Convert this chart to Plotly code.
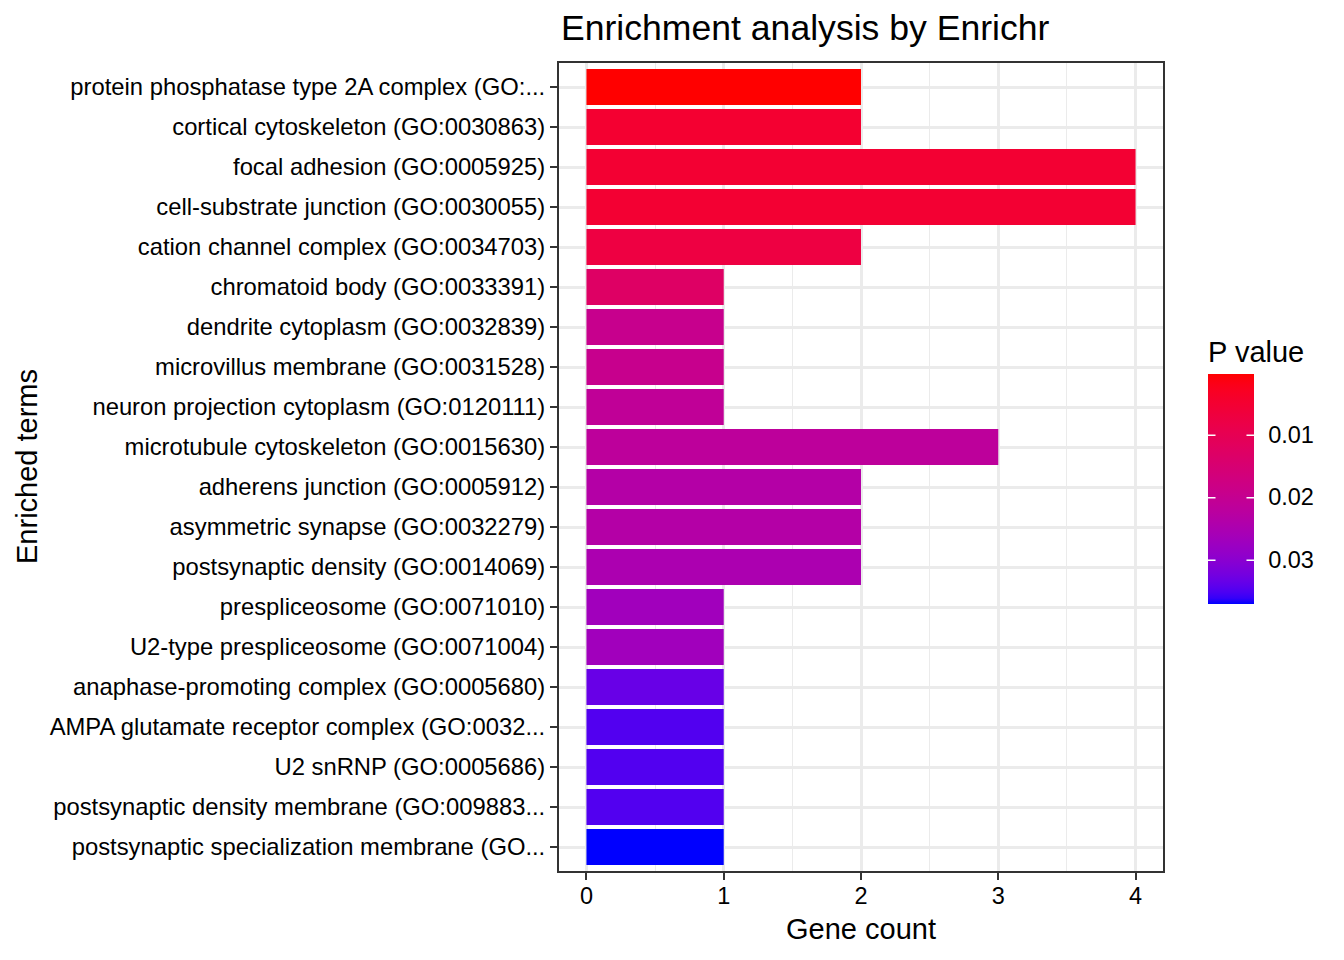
import plotly.graph_objects as go

# Enrichr terms, top to bottom as in the chart
terms = [
    'protein phosphatase type 2A complex (GO:...',
    'cortical cytoskeleton (GO:0030863)',
    'focal adhesion (GO:0005925)',
    'cell-substrate junction (GO:0030055)',
    'cation channel complex (GO:0034703)',
    'chromatoid body (GO:0033391)',
    'dendrite cytoplasm (GO:0032839)',
    'microvillus membrane (GO:0031528)',
    'neuron projection cytoplasm (GO:0120111)',
    'microtubule cytoskeleton (GO:0015630)',
    'adherens junction (GO:0005912)',
    'asymmetric synapse (GO:0032279)',
    'postsynaptic density (GO:0014069)',
    'prespliceosome (GO:0071010)',
    'U2-type prespliceosome (GO:0071004)',
    'anaphase-promoting complex (GO:0005680)',
    'AMPA glutamate receptor complex (GO:0032...',
    'U2 snRNP (GO:0005686)',
    'postsynaptic density membrane (GO:009883...',
    'postsynaptic specialization membrane (GO...',
]
gene_count = [2, 2, 4, 4, 2, 1, 1, 1, 1, 3, 2, 2, 2, 1, 1, 1, 1, 1, 1, 1]
p_value = [0.00035, 0.0050, 0.0053, 0.0053, 0.0074, 0.0129, 0.0195, 0.0195, 0.0210,
           0.0217, 0.0235, 0.0235, 0.0250, 0.0269, 0.0269, 0.0335, 0.0349, 0.0349,
           0.0349, 0.03715]
cbar_ticks = [0.01, 0.02, 0.03]


# ggplot-style gradient (interpolated in Lab space)
def to_lab(rgb):
    def lin(c):
        c = c / 255
        return c / 12.92 if c <= 0.04045 else ((c + 0.055) / 1.055) ** 2.4
    r, g, b = (lin(c) for c in rgb)
    x = (0.4124 * r + 0.3576 * g + 0.1805 * b) / 0.95047
    y = 0.2126 * r + 0.7152 * g + 0.0722 * b
    z = (0.0193 * r + 0.1192 * g + 0.9505 * b) / 1.08883
    f = lambda t: t ** (1 / 3) if t > 0.008856 else 7.787 * t + 16 / 116
    fx, fy, fz = f(x), f(y), f(z)
    return 116 * fy - 16, 500 * (fx - fy), 200 * (fy - fz)


def from_lab(L, a, bb):
    fy = (L + 16) / 116
    fx = fy + a / 500
    fz = fy - bb / 200
    inv = lambda t: t ** 3 if t ** 3 > 0.008856 else (t - 16 / 116) / 7.787
    x, y, z = 0.95047 * inv(fx), inv(fy), 1.08883 * inv(fz)
    r = 3.2406 * x - 1.5372 * y - 0.4986 * z
    g = -0.9689 * x + 1.8758 * y + 0.0415 * z
    b = 0.0557 * x - 0.2040 * y + 1.0570 * z
    def gam(c):
        c = min(max(c, 0), 1)
        return 12.92 * c if c <= 0.0031308 else 1.055 * c ** (1 / 2.4) - 0.055
    return 'rgb(%d,%d,%d)' % tuple(round(gam(c) * 255) for c in (r, g, b))


lo, hi = to_lab((0, 0, 255)), to_lab((255, 0, 0))
n = 40
colorscale = [[i / n, from_lab(*(lo[k] + (hi[k] - lo[k]) * i / n for k in range(3)))]
              for i in range(n + 1)]

font = 'Liberation Sans, Arial, sans-serif'

# layout geometry (figure px); the page adds an ~8px offset, so things sit 8px up/left
W, H = 1344, 960
L_M, R_M, T_M, B_M = 551, 189, 55, 97
plot_w, plot_h = W - L_M - R_M, H - T_M - B_M
bar_left, bar_top, bar_len, bar_thick = 1200, 367, 230, 46

fig = go.Figure(go.Bar(
    x=gene_count,
    y=terms,
    orientation='h',
    width=0.9,
    marker=dict(
        color=[-p for p in p_value],  # negated so small p sits on top of the bar
        colorscale=colorscale,
        line=dict(width=0),
        colorbar=dict(
            title=dict(text='P value', side='top', font=dict(size=29, color='black')),
            tickvals=[-t for t in cbar_ticks],
            ticktext=[str(t) for t in cbar_ticks],
            ticks='outside', ticklen=10, tickcolor='white',
            tickfont=dict(size=23.5, color='black'),
            thickness=bar_thick, len=bar_len + 57, lenmode='pixels',
            xpad=0, x=(bar_left - L_M) / plot_w, xanchor='left',
            y=(T_M + plot_h - (bar_top + bar_len + 9)) / plot_h, yanchor='bottom',
            outlinewidth=0,
        ),
    ),
))

annotations = [
    dict(text='Gene count', x=0.5, xref='paper', y=-0.072, yref='paper',
         showarrow=False, font=dict(size=29), yanchor='middle'),
    dict(text='Enriched terms', x=(19 - L_M) / plot_w, xref='paper', y=0.5, yref='paper',
         showarrow=False, font=dict(size=29), textangle=-90, xanchor='center'),
]

# white tick marks inside the colour bar, on both edges (ggplot style)
pmin, pmax = min(p_value), max(p_value)
for t in cbar_ticks:
    yy = bar_top + (t - pmin) / (pmax - pmin) * bar_len
    for x0, dx in ((bar_left, 9), (bar_left + bar_thick, -9)):
        annotations.append(dict(
            text='', xref='paper', yref='paper',
            x=(x0 - L_M) / plot_w, y=(T_M + plot_h - yy) / plot_h,
            showarrow=True, arrowhead=0, arrowwidth=1.5, arrowcolor='white',
            ax=dx, ay=0, standoff=0, startstandoff=0,
        ))

fig.update_layout(
    width=W, height=H,
    margin=dict(l=L_M, r=R_M, t=T_M, b=B_M),
    paper_bgcolor='white', plot_bgcolor='white',
    font=dict(family=font, color='black'),
    showlegend=False,
    title=dict(text='Enrichment analysis by Enrichr', font=dict(size=35.6, color='black'),
               x=553 / W, xanchor='left', y=1 - 20 / H, yanchor='middle'),
    annotations=annotations,
)

fig.update_xaxes(
    range=[-0.2, 4.2], tick0=0, dtick=1,
    showgrid=True, gridcolor='#EBEBEB', gridwidth=2.8,
    minor=dict(dtick=0.5, showgrid=True, gridcolor='#EBEBEB', gridwidth=1.4),
    ticks='outside', ticklen=7, tickwidth=2.4, tickcolor='#333333',
    ticklabelstandoff=-4,
    tickfont=dict(size=23.5, color='black'),
    showline=True, linecolor='#333333', linewidth=2, mirror=True, zeroline=False,
)
fig.update_yaxes(
    categoryorder='array', categoryarray=terms,
    range=[19.6, -0.6],
    showgrid=True, gridcolor='#EBEBEB', gridwidth=2.8,
    ticks='outside', ticklen=7, tickwidth=2.4, tickcolor='#333333',
    tickfont=dict(size=23.8, color='black'),
    showline=True, linecolor='#333333', linewidth=2, mirror=True, zeroline=False,
)

fig.write_html('out.html')
